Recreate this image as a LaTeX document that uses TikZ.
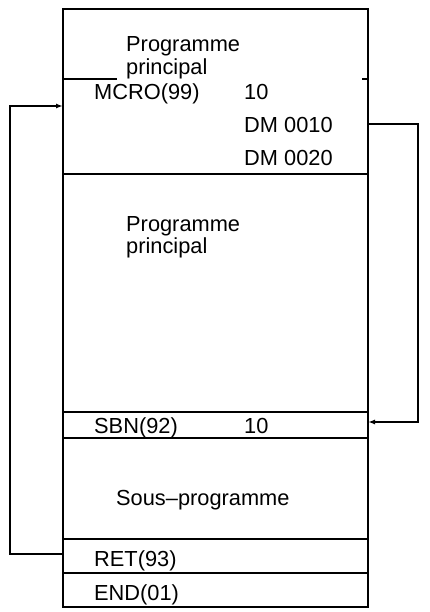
\documentclass[tikz,border=0pt]{standalone}
\usepackage{fontspec}
\setmainfont{Liberation Sans}
\usetikzlibrary{arrows.meta}

\begin{document}
\begin{tikzpicture}[x=1pt,y=-1pt,line width=2.4pt,
    lbl/.style={anchor=base west,inner sep=0pt,font=\fontsize{21.8}{24}\selectfont},
    flow/.style={-{Latex[length=7pt,width=5pt]}}]
  \useasboundingbox (0,0) rectangle (429,612);
  %\draw[step=10pt,gray,very thin] (0,0) grid (429,612);

  % program frame
  \draw (63,9) rectangle (368,607);
  \draw (63,79) -- (117,79);
  \draw (362,79) -- (368,79);
  \draw (63,174) -- (368,174);
  \draw (63,412) -- (368,412);
  \draw (63,438) -- (368,438);
  \draw (63,539) -- (368,539);
  \draw (63,573) -- (368,573);

  % texts
  \node[lbl] (mainA) at (125,52) {Programme};
  \node[lbl] (mainB) at (125,75) {principal};
  \node[lbl] (mcro) at (93,100) {MCRO(99)};
  \node[lbl] (mcroN) at (243,100) {10};
  \node[lbl] (dmA) at (243,133) {DM 0010};
  \node[lbl] (dmB) at (243,166) {DM 0020};
  \node[lbl] (mainC) at (125,231) {Programme};
  \node[lbl] (mainD) at (125,253) {principal};
  \node[lbl] (sbn) at (93,433) {SBN(92)};
  \node[lbl] (sbnN) at (243,433) {10};
  \node[lbl] (sub) at (115,505) {Sous--programme};
  \node[lbl] (ret) at (93,566) {RET(93)};
  \node[lbl] (endp) at (93,600) {END(01)};

  % jump points on the frame
  \coordinate (callIn) at (63,106);
  \coordinate (retOut) at (63,554);
  \coordinate (callOut) at (368,124);
  \coordinate (sbnIn) at (368,422);

  \draw[flow] (retOut) -- ++(-53,0) |- (callIn);
  \draw[flow] (callOut) -- ++(50,0) |- (sbnIn);
\end{tikzpicture}
\end{document}
